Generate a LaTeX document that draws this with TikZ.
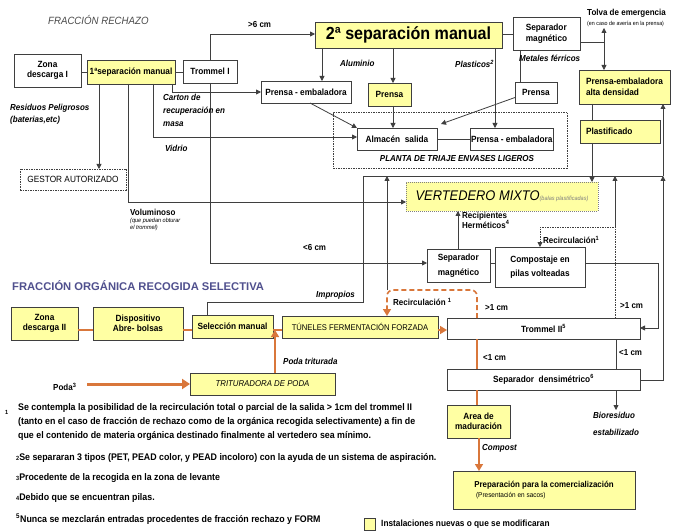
\documentclass[tikz,border=0pt]{standalone}
\usepackage{fontspec}
\setmainfont{Liberation Sans}[FakeStretch=0.92]
\newfontfamily\widefont{Liberation Sans}
\usetikzlibrary{arrows.meta,calc}
\definecolor{boxyellow}{HTML}{FFFFA3}
\definecolor{lineg}{HTML}{3F3F3F}
\definecolor{orng}{HTML}{D9773B}
\definecolor{titleblue}{HTML}{50508E}
\definecolor{titlegray}{HTML}{4A4A4A}
\newcommand\fsz[2]{\fontsize{#1}{#2}\selectfont}
\newcommand\bx[7]{\node[#1, anchor=north west, minimum width={(#5-#3)*1pt}, minimum height={(#6-#4)*1pt}] (#2) at (#3,#4) {#7};}
\tikzset{
 base/.style={inner sep=1pt, outer sep=0pt, font=\fsz{9}{10.5}\bfseries, align=center, text=black},
 wbox/.style={base, draw=lineg, line width=0.8pt, fill=white},
 ybox/.style={base, draw=lineg, line width=0.8pt, fill=boxyellow},
 dbox/.style={base, draw=lineg, line width=0.6pt, dash pattern=on 1.5pt off 1pt},
 conn/.style={draw=lineg, line width=0.8pt},
 arr/.style={conn, -{Triangle[length=5pt,width=5pt]}},
 oconn/.style={draw=orng, line width=1.6pt},
 oarr/.style={oconn, -{Triangle[length=7pt,width=8pt]}},
 lab/.style={inner sep=0pt, font=\fsz{8.7}{12}\bfseries, align=left, anchor=west},
 ilab/.style={lab, font=\fsz{8.7}{12}\bfseries\itshape},
 foot/.style={lab, font=\fsz{9.6}{14}\bfseries},
}
\begin{document}
\begin{tikzpicture}[x=1pt,y=-1pt]
\fill[white] (0,0) rectangle (678,532);
\useasboundingbox (0,0) rectangle (678,532);
\foreach \v in {87,99,128,153,172,207,210,275,322,363,387,393,458,477,479,495,520,540,592,604,615,616,658,663} {\coordinate (x\v) at (\v,0);}
\foreach \v in {34,42,92,137,176,202,227,263,290,302,328,330,380,384,410} {\coordinate (y\v) at (0,\v);}

% ---------- boxes: rechazo ----------
\bx{dbox}{planta}{333}{112}{567}{168}{}
\bx{wbox}{zona1}{14}{54}{81}{87}{Zona\\descarga I}
\bx{ybox}{sep1}{87}{60}{175}{84}{1ªseparación manual}
\bx{wbox}{trom1}{183}{60}{237}{83}{Trommel I}
\bx{ybox,font=\fsz{17.5}{19}\bfseries}{sep2}{315}{22}{502}{48}{2ª separación manual}
\bx{wbox,align=left}{sepmag1}{513}{17}{580}{50}{Separador\\magnético}
\bx{wbox}{pe1}{261}{81}{351}{103}{Prensa - embaladora}
\bx{ybox}{prensa1}{368}{83}{411}{106}{Prensa}
\bx{wbox}{prensa2}{515}{82}{557}{103}{Prensa}
\bx{wbox}{alm}{357}{128}{437}{150}{Almacén\ \ salida}
\bx{wbox}{pe2}{470}{128}{553}{150}{Prensa - embaladora}
\bx{ybox,align=left}{pead}{579}{70}{670}{104}{Prensa-embaladora\\alta densidad}
\node[ybox, anchor=north west, minimum height=23pt, text width=68pt, inner xsep=6pt, align=left] (plast) at (580,120) {Plastificado};
\bx{dbox,font=\fsz{9}{10.5}}{gestor}{20}{169}{126}{190}{GESTOR AUTORIZADO}
\bx{ybox,draw=gray,dash pattern=on 1pt off 1pt,font=\fsz{14}{16}\itshape}{vert}{406}{182}{598}{211}{VERTEDERO MIXTO{\fsz{6}{7}\color{gray}(balas plastificadas)}}
\bx{wbox,align=left}{sepmag2}{427}{249}{490}{282}{Separador\\[4pt]magnético}
\bx{wbox,align=left}{compost}{495}{247}{585}{287}{Compostaje en\\[4pt]pilas volteadas}

% ---------- boxes: organica ----------
\bx{ybox}{zona2}{11}{307}{78}{340}{Zona\\descarga II}
\bx{ybox}{abre}{93}{307}{183}{340}{Dispositivo\\Abre- bolsas}
\bx{ybox}{selm}{192}{315}{273}{338}{Selección manual}
\bx{ybox,font=\fsz{8.3}{10}}{tunel}{282}{316}{438}{338}{TÚNELES FERMENTACIÓN FORZADA}
\bx{wbox}{trom2}{447}{318}{640}{339}{Trommel II\textsuperscript{5}}
\bx{wbox}{sepd}{447}{369}{640}{390}{Separador\ \ densimétrico\textsuperscript{6}}
\bx{ybox,font=\fsz{8.5}{10}\itshape}{trit}{190}{373}{335}{395}{TRITURADORA DE PODA}
\bx{ybox}{area}{447}{405}{510}{438}{Area de\\maduración}
\bx{ybox,align=left,font=\fsz{8.6}{10.5}\bfseries}{prep}{453}{471}{635}{509}{Preparación para la comercialización\\{\fsz{7}{9}\mdseries\ (Presentación en sacos)}}
\bx{ybox,line width=0.6pt}{legsq}{364}{518}{375}{530}{}

% ---------- connectors: rechazo ----------
\draw[conn] (zona1.east |- sep1.west) -- (sep1.west);
\draw[conn] (sep1.east) -- (trom1.west |- sep1.east);
\draw[arr] (sep1.south -| x99) -- (gestor.north -| x99);
\draw[arr] (sep1.south -| x128) |- (vert.west |- y202);
\draw[arr] (sep1.south -| x153) |- (alm.west |- y137);
\draw[arr] (sep1.south -| x172) |- (pe1.west |- y92);
\draw[arr] (trom1.north -| x210) |- (sep2.west |- y34);
\draw[arr] (trom1.south -| x210) |- (sepmag2.west |- y263);
\draw[arr] (sep2.south -| x322) -- (pe1.north -| x322);
\draw[arr] (sep2.south -| x393) -- (prensa1.north -| x393);
\draw[arr] (sep2.south -| x495) -- (pe2.north -| x495);
\draw[conn] (sep2.east |- y34) -- (sepmag1.west |- y34);
\draw[conn] (sepmag1.south -| x520) -- (prensa2.north -| x520);
\draw[arr] ($(pe1.south)+(4,0)$) -- (alm.north west);
\draw[arr] (prensa1.south -| x393) -- (alm.north -| x393);
\draw[arr] ($(prensa2.west)+(0,5)$) -- ($(alm.north east)+(4,-4)$);
\draw[conn] (alm.east) -- (pe2.west |- alm.east);
\coordinate (tolva) at (604,28);
\draw[conn] (sepmag1.east |- y42) -- (x604 |- y42);
\draw[conn, {Triangle[length=5pt,width=5pt]}-{Triangle[length=5pt,width=5pt]}] (tolva) -- (pead.north -| x604);
\draw[conn] (pead.south -| x592) -- (plast.north -| x592);
\draw[arr] (plast.south -| x592) -- (vert.north -| x592);
\draw[conn] (selm.north -| x207) |- (x363 |- y302) |- (x663 |- y176);
\draw[arr] (x387 |- y290) -- (x387 |- y176);
\draw[arr] (x615 |- y227) -- (x615 |- y176);
\draw[arr] (sepd.east |- y380) -| (x663 |- y176);
\draw[arr] (x663 |- y176) -- (pead.south -| x663);
\draw[arr, dash pattern=on 1.5pt off 1pt] (trom2.north -| x615) |- (x540 |- y227) -- (compost.north -| x540);
\draw[conn] (sepmag2.east |- y263) -- (compost.west |- y263);
\draw[arr] (sepmag2.north -| x458) -- (vert.south -| x458);
\draw[arr] (compost.east |- y263) -| (x658 |- y328) -- (trom2.east |- y328);
\draw[conn] (trom2.south -| x616) -- (sepd.north -| x616);
\draw[arr] (sepd.south -| x616) -- (x616 |- y410);

% ---------- connectors: organica ----------
\draw[oconn] (zona2.east |- y330) -- (abre.west |- y330);
\draw[oconn] (abre.east |- y330) -- (selm.west |- y330);
\draw[oconn] (selm.east |- y330) -- (tunel.west |- y330);
\draw[oarr] (tunel.east |- y330) -- (trom2.west |- y330);
\draw[oarr] (trit.north -| x275) -- (x275 |- y330);
\draw[oconn] (trom2.south -| x477) -- (sepd.north -| x477);
\draw[oconn] (sepd.south -| x477) -- (area.north -| x477);
\draw[oarr] (area.south -| x479) -- (prep.north -| x479);
\draw[oarr, dash pattern=on 5pt off 3pt, rounded corners=6pt] (trom2.north -| x477) |- (x387 |- y290) -- (tunel.north -| x387);

% ---------- labels ----------
\node[lab, font=\fsz{10.5}{12}\itshape, text=titlegray] (t1) at (48,20) {FRACCIÓN RECHAZO};
\node[ilab, anchor=north west] (lres) at (10,104) {Residuos Peligrosos\\(baterias,etc)};
\node[ilab, anchor=north west, font=\fsz{8.7}{13}\bfseries\itshape] (lcar) at (163,94) {Carton de\\recuperación en\\masa};
\node[ilab] (lvid) at (165,148) {Vidrio};
\node[lab] (lvol) at (130,212) {Voluminoso};
\node[lab, anchor=north west, font=\fsz{6}{7}\itshape] (lvol2) at (130,218) {(que puedan obturar\\el trommel)};
\node[lab] (l6a) at (248,25) {>6 cm};
\node[lab] (l6b) at (303,248) {<6 cm};
\node[ilab] (lalu) at (340,63) {Aluminio};
\node[ilab] (lpla) at (455,64) {Plasticos\textsuperscript{2}};
\node[ilab] (lmet) at (519,58) {Metales férricos};
\node[lab] (ltol) at (587,13) {Tolva de emergencia};
\node[lab, font=\fsz{5.8}{7}] (ltol2) at (587,24) {(en caso de avería en la prensa)};
\node[ilab, anchor=center] (lpt) at (457,159) {PLANTA DE TRIAJE ENVASES LIGEROS};
\node[lab, anchor=north west, font=\fsz{8.7}{10}\bfseries] (lrec) at (462,212) {Recipientes\\Herméticos\textsuperscript{4}};
\node[lab] (lrc1) at (543,240) {Recirculación\textsuperscript{1}};
\node[lab, font=\widefont\fsz{11.2}{13}\bfseries, text=titleblue] (t2) at (12,286) {FRACCIÓN ORGÁNICA RECOGIDA SELECTIVA};
\node[ilab] (limp) at (316,295) {Impropios};
\node[lab] (lrc2) at (393,302) {Recirculación \textsuperscript{1}};
\node[lab] (l1a) at (485,308) {>1 cm};
\node[lab] (l1b) at (483,358) {<1 cm};
\node[lab] (l1c) at (620,306) {>1 cm};
\node[lab] (l1d) at (619,353) {<1 cm};
\node[lab] (lpoda) at (53,387) {Poda\textsuperscript{3}};
\draw[orng, line width=3pt, -{Triangle[length=8pt,width=10pt]}] (x87 |- y384) -- (trit.west);
\node[ilab] (lpt2) at (283,361) {Poda triturada};
\node[ilab, anchor=north west, font=\fsz{8.7}{17}\bfseries\itshape] (lbio) at (593,412) {Bioresiduo\\estabilizado};
\node[ilab] (lcomp) at (482,448) {Compost};

% ---------- footnotes ----------
\node[lab, font=\fsz{6}{7}\bfseries] (f1n) at (5,412) {1};
\node[foot, anchor=north west] (f1) at (18,403) {Se contempla la posibilidad de la recirculación total o parcial de la salida > 1cm del trommel II\\(tanto en el caso de fracción de rechazo como de la orgánica recogida selectivamente) a fin de\\que el contenido de materia orgánica destinado finalmente al vertedero sea mínimo.};
\node[foot] (f2) at (16,458) {{\fsz{6}{7}2}Se separaran 3 tipos (PET, PEAD color, y PEAD incoloro) con la ayuda de un sistema de aspiración.};
\node[foot] (f3) at (16,478) {{\fsz{6}{7}3}Procedente de la recogida en la zona de levante};
\node[foot] (f4) at (16,498) {{\fsz{6}{7}4}Debido que se encuentran pilas.};
\node[foot] (f5) at (16,519) {\textsuperscript{5}Nunca se mezclarán entradas procedentes de fracción rechazo y FORM};
\node[lab, font=\fsz{9}{11}\bfseries] (leg) at (381,524) {Instalaciones nuevas o que se modificaran};
\end{tikzpicture}
\end{document}
